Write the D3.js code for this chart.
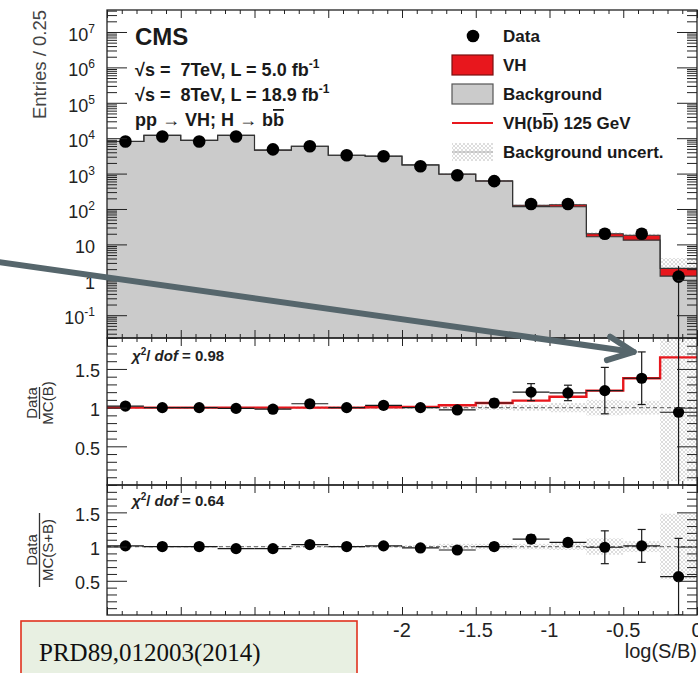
<!DOCTYPE html>
<html>
<head>
<meta charset="utf-8">
<script src="https://cdn.jsdelivr.net/npm/d3@7"></script>
<style>
  body { margin: 0; background: #fff; }
  svg { display: block; }
</style>
</head>
<body>
<script>
// ---- Data: log(S/B) distribution, 0.25-wide bins ----
const binCenters = [-3.875, -3.625, -3.375, -3.125, -2.875, -2.625, -2.375, -2.125,
                    -1.875, -1.625, -1.375, -1.125, -0.875, -0.625, -0.375, -0.125];
const binWidth = 0.25;

// Main panel (entries per bin)
const background = [8100, 12000, 8700, 12000, 4600, 5900, 3300, 3100, 1750, 960, 610, 117, 116, 16.4, 13.2, 1.27];
const signalVH   = [8, 12, 9, 14, 8, 10, 9, 12, 12, 15, 20, 10, 16, 3.6, 5.0, 0.83];
const dataCounts = [8100, 11200, 8100, 11200, 4840, 5900, 3290, 3080, 1610, 900, 612, 138, 138, 20, 20, 1.23];
const dataErr    = [90, 106, 90, 106, 70, 77, 57, 55, 40, 30, 25, 12, 12, 4.5, 4.5, 1.21];

// Data / MC(B) panel
const ratioB      = [1.02, 1.0, 1.0, 0.99, 0.98, 1.05, 1.0, 1.03, 1.0, 0.97, 1.06, 1.2, 1.19, 1.22, 1.38, 0.94];
const ratioBErr   = [0.015, 0.012, 0.015, 0.012, 0.02, 0.02, 0.025, 0.025, 0.03, 0.04, 0.05, 0.11, 0.1, 0.3, 0.34, 0.96];
const sbOverB     = [1.0, 1.0, 1.0, 1.0, 1.0, 1.0, 1.0, 1.005, 1.01, 1.03, 1.06, 1.09, 1.14, 1.22, 1.38, 1.65];
const uncB        = [0.01, 0.01, 0.01, 0.01, 0.01, 0.015, 0.015, 0.02, 0.02, 0.025, 0.03, 0.04, 0.06, 0.1, 0.09, 0.95];

// Data / MC(S+B) panel
const ratioSB     = [1.01, 1.0, 1.0, 0.97, 0.97, 1.03, 1.0, 1.01, 0.98, 0.95, 1.0, 1.11, 1.06, 0.99, 1.01, 0.56];
const ratioSBErr  = [0.015, 0.012, 0.015, 0.012, 0.02, 0.02, 0.025, 0.025, 0.03, 0.04, 0.05, 0.06, 0.05, 0.24, 0.24, 0.56];
const uncSB       = [0.01, 0.01, 0.01, 0.01, 0.01, 0.015, 0.015, 0.02, 0.02, 0.04, 0.04, 0.04, 0.05, 0.12, 0.08, 0.48];

// Tick labels
const xTickValues = [-4, -3.5, -3, -2.5, -2, -1.5, -1, -0.5, 0];
const xTickLabels = ["-4", "-3.5", "-3", "-2.5", "-2", "-1.5", "-1", "-0.5", "0"];
const logTickExps = [-1, 0, 1, 2, 3, 4, 5, 6, 7];
const ratioTickValues = [0.5, 1, 1.5];
const ratioTickLabels = ["0.5", "1", "1.5"];
const chi2B = "0.98";
const chi2SB = "0.64";

// ---- Layout ----
const W = 698, H = 673;
const X0 = 107, X1 = 697;
const P1 = { top: 10, bottom: 338 };
const P2 = { top: 338, bottom: 485 };
const P3 = { top: 485, bottom: 615 };
const NOTE = { x: 21, y: 621, w: 336, h: 60 };
const FONT = "'Liberation Sans', Arial, Helvetica, sans-serif";
const INK = "#1a1a1a";
const RED = "#e8171d";
const GREY = "#cbcbcb";

const x = d3.scaleLinear().domain([-4, 0]).range([X0, X1]);
const yMain = d3.scaleLog().domain([Math.pow(10, -1.644), Math.pow(10, 7.621)]).range([P1.bottom, P1.top]);
const yR2 = d3.scaleLinear().domain([0, 1.9]).range([P2.bottom, P2.top]);
const yR3 = d3.scaleLinear().domain([0, 1.9]).range([P3.bottom, P3.top]);

const svg = d3.select("body").append("svg")
  .attr("width", W).attr("height", H)
  .style("font-family", FONT);

const defs = svg.append("defs");
defs.append("pattern").attr("id", "hatch")
  .attr("width", 4).attr("height", 4).attr("patternUnits", "userSpaceOnUse")
  .append("path").attr("d", "M0,0L4,4M4,0L0,4")
  .attr("stroke", "#c6c6c6").attr("stroke-width", 0.6);
[["clip1", P1], ["clip2", P2], ["clip3", P3]].forEach(([id, p]) => {
  defs.append("clipPath").attr("id", id).append("rect")
    .attr("x", X0).attr("y", p.top).attr("width", X1 - X0).attr("height", p.bottom - p.top);
});

const lo = c => x(c - binWidth / 2);
const hi = c => x(c + binWidth / 2);
const stepPoints = (vals, ys) => binCenters.flatMap((c, i) => [[lo(c), ys(vals[i])], [hi(c), ys(vals[i])]]);
const line = d3.line();

// ---- Main panel ----
const g1 = svg.append("g").attr("clip-path", "url(#clip1)");
const total = background.map((b, i) => b + signalVH[i]);

g1.selectAll("rect.unc").data(binCenters).join("rect")
  .attr("x", c => lo(c)).attr("width", c => hi(c) - lo(c))
  .attr("y", (c, i) => yMain(total[i] * (1 + uncB[i])))
  .attr("height", (c, i) => yMain(Math.max(total[i] * (1 - uncB[i]), 1e-3)) - yMain(total[i] * (1 + uncB[i])))
  .attr("fill", "url(#hatch)");

// stacked areas: background, then VH on top
const bgPts = stepPoints(background, yMain);
const totPts = stepPoints(total, yMain);
g1.append("path")
  .attr("d", d3.area().x(p => p[0]).y0(P1.bottom).y1(p => p[1])(bgPts))
  .attr("fill", GREY);
g1.append("path")
  .attr("d", d3.area().x(p => p[0]).y0((p, i) => bgPts[i][1]).y1(p => p[1])(totPts))
  .attr("fill", RED);

g1.append("path").attr("d", line(bgPts))
  .attr("fill", "none").attr("stroke", "#333").attr("stroke-width", 1.1);
g1.append("path").attr("d", line(totPts))
  .attr("fill", "none").attr("stroke", "#333").attr("stroke-width", 1.1);

g1.selectAll("line.err").data(binCenters).join("line")
  .attr("x1", c => x(c)).attr("x2", c => x(c))
  .attr("y1", (c, i) => yMain(dataCounts[i] + dataErr[i]))
  .attr("y2", (c, i) => yMain(Math.max(dataCounts[i] - dataErr[i], 1e-3)))
  .attr("stroke", INK).attr("stroke-width", 1.2);
g1.selectAll("circle").data(binCenters).join("circle")
  .attr("cx", c => x(c)).attr("cy", (c, i) => yMain(dataCounts[i]))
  .attr("r", 6.3).attr("fill", "#000");

// ---- Ratio panels ----
function ratioPanel(clipId, P, ys, vals, errs, unc, redLine) {
  const g = svg.append("g").attr("clip-path", `url(#${clipId})`);
  g.selectAll("rect.unc").data(binCenters).join("rect")
    .attr("x", c => lo(c)).attr("width", c => hi(c) - lo(c))
    .attr("y", (c, i) => ys(1 + unc[i]))
    .attr("height", (c, i) => ys(1 - unc[i]) - ys(1 + unc[i]))
    .attr("fill", "url(#hatch)");
  g.append("line")
    .attr("x1", X0).attr("x2", X1).attr("y1", ys(1)).attr("y2", ys(1))
    .attr("stroke", "#777").attr("stroke-width", 1.1).attr("stroke-dasharray", "4,3");
  if (redLine) {
    g.append("path").attr("d", line(stepPoints(redLine, ys)))
      .attr("fill", "none").attr("stroke", RED).attr("stroke-width", 2.4);
  }
  // horizontal (bin width) bars
  g.selectAll("line.xe").data(binCenters).join("line")
    .attr("x1", c => lo(c)).attr("x2", c => hi(c))
    .attr("y1", (c, i) => ys(vals[i])).attr("y2", (c, i) => ys(vals[i]))
    .attr("stroke", INK).attr("stroke-width", 1.2);
  // vertical error bars with caps
  g.selectAll("line.ye").data(binCenters).join("line")
    .attr("x1", c => x(c)).attr("x2", c => x(c))
    .attr("y1", (c, i) => ys(vals[i] + errs[i])).attr("y2", (c, i) => ys(vals[i] - errs[i]))
    .attr("stroke", INK).attr("stroke-width", 1.2);
  [1, -1].forEach(sgn => {
    g.selectAll(null).data(binCenters).join("line")
      .attr("x1", c => x(c) - 4).attr("x2", c => x(c) + 4)
      .attr("y1", (c, i) => ys(vals[i] + sgn * errs[i])).attr("y2", (c, i) => ys(vals[i] + sgn * errs[i]))
      .attr("stroke", INK).attr("stroke-width", 1.2);
  });
  g.selectAll("circle").data(binCenters).join("circle")
    .attr("cx", c => x(c)).attr("cy", (c, i) => ys(vals[i]))
    .attr("r", 5.6).attr("fill", "#000");
}
ratioPanel("clip2", P2, yR2, ratioB, ratioBErr, uncB, sbOverB);
ratioPanel("clip3", P3, yR3, ratioSB, ratioSBErr, uncSB, null);

// ---- Axes & frames ----
const xMajor = xTickValues;
const xMinor = d3.range(-40, 1).map(v => v / 10).filter(v => Math.abs(v * 2 - Math.round(v * 2)) > 1e-6);
function tickAxis(axis, tx, ty) {
  const g = svg.append("g").attr("transform", `translate(${tx},${ty})`).call(axis);
  g.select(".domain").remove();
  g.selectAll("line").attr("stroke", "#222").attr("stroke-width", 1);
  g.selectAll("text").remove();
  return g;
}
function xTicks(P) {
  tickAxis(d3.axisBottom(x).tickValues(xMajor).tickSize(8), 0, P.top);
  tickAxis(d3.axisBottom(x).tickValues(xMinor).tickSize(4), 0, P.top);
  tickAxis(d3.axisTop(x).tickValues(xMajor).tickSize(8), 0, P.bottom);
  tickAxis(d3.axisTop(x).tickValues(xMinor).tickSize(4), 0, P.bottom);
}
[P1, P2, P3].forEach(xTicks);

// log y ticks for the main panel
const [dLo, dHi] = yMain.domain();
const logMajor = [], logMinor = [];
for (let e = -2; e <= 7; e++) {
  for (let k = 1; k <= 9; k++) {
    const v = k * Math.pow(10, e);
    if (v < dLo || v > dHi) continue;
    (k === 1 ? logMajor : logMinor).push(v);
  }
}
tickAxis(d3.axisRight(yMain).tickValues(logMajor).tickSize(20), X0, 0);
tickAxis(d3.axisRight(yMain).tickValues(logMinor).tickSize(10), X0, 0);
tickAxis(d3.axisLeft(yMain).tickValues(logMajor).tickSize(20), X1, 0);
tickAxis(d3.axisLeft(yMain).tickValues(logMinor).tickSize(10), X1, 0);

const rMinor = d3.range(1, 20).map(v => v / 10).filter(v => Math.abs(v * 2 - Math.round(v * 2)) > 1e-6);
[yR2, yR3].forEach(ys => {
  tickAxis(d3.axisRight(ys).tickValues(ratioTickValues).tickSize(20), X0, 0);
  tickAxis(d3.axisRight(ys).tickValues(rMinor).tickSize(10), X0, 0);
  tickAxis(d3.axisLeft(ys).tickValues(ratioTickValues).tickSize(20), X1, 0);
  tickAxis(d3.axisLeft(ys).tickValues(rMinor).tickSize(10), X1, 0);
});

[P1, P2, P3].forEach(P => {
  svg.append("rect").attr("x", X0).attr("y", P.top).attr("width", X1 - X0).attr("height", P.bottom - P.top)
    .attr("fill", "none").attr("stroke", "#222").attr("stroke-width", 1.3);
});

// ---- Tick labels ----
const labelsMain = svg.append("g").attr("font-size", 18).attr("fill", "#222").attr("text-anchor", "end");
logTickExps.forEach(e => {
  const t = labelsMain.append("text").attr("x", 95).attr("y", yMain(Math.pow(10, e)) + 9);
  if (e === 0) t.text("1");
  else if (e === 1) t.text("10");
  else {
    t.append("tspan").text("10");
    t.append("tspan").attr("font-size", 12).attr("dy", -8).text(String(e));
  }
});
[yR2, yR3].forEach(ys => {
  ratioTickValues.forEach((v, i) => {
    svg.append("text").attr("x", 100).attr("y", ys(v) + 8.5)
      .attr("text-anchor", "end").attr("font-size", 18).attr("fill", "#222")
      .text(ratioTickLabels[i]);
  });
});
// x labels; those under the reference note box are covered, so only the visible ones are drawn
xTickValues.forEach((v, i) => {
  if (x(v) < NOTE.x + NOTE.w + 10) return;
  svg.append("text").attr("x", x(v)).attr("y", 637)
    .attr("text-anchor", "middle").attr("font-size", 20).attr("fill", "#222")
    .text(xTickLabels[i]);
});
svg.append("text").attr("x", 697).attr("y", 658).attr("text-anchor", "end")
  .attr("font-size", 20).attr("fill", "#222").text("log(S/B)");

// ---- Axis titles ----
svg.append("text").attr("transform", "translate(46,10) rotate(-90)")
  .attr("text-anchor", "end").attr("font-size", 18.5).attr("fill", "#444")
  .text("Entries / 0.25");

function fracLabel(cy, denom) {
  const g = svg.append("g").attr("transform", `translate(39.5,${cy}) rotate(-90)`)
    .attr("font-size", 15).attr("fill", "#333").attr("text-anchor", "middle");
  g.append("text").attr("x", 0).attr("y", -3).text("Data");
  g.append("text").attr("x", 0).attr("y", 13).text(denom);
  const w = denom.length > 5 ? 74 : 32;
  g.append("line").attr("x1", -w / 2).attr("x2", w / 2).attr("y1", 0).attr("y2", 0)
    .attr("stroke", "#333").attr("stroke-width", 1.3);
}
fracLabel(403, "MC(B)");
fracLabel(550, "MC(S+B)");

function chi2Label(y, val) {
  const t = svg.append("text").attr("x", 132).attr("y", y)
    .attr("font-size", 15).attr("font-weight", "bold").attr("fill", "#222");
  t.append("tspan").attr("font-style", "italic").text("χ");
  t.append("tspan").attr("font-size", 10).attr("dy", -6).text("2");
  t.append("tspan").attr("dy", 6).text("/ ");
  t.append("tspan").attr("font-style", "italic").text("dof");
  t.append("tspan").text(" = " + val);
}
chi2Label(361, chi2B);
chi2Label(506, chi2SB);

// ---- CMS labels ----
svg.append("text").attr("x", 135).attr("y", 45).attr("font-size", 24)
  .attr("font-weight", "bold").attr("fill", INK).text("CMS");
function lumiLine(y, energy, lumi) {
  const t = svg.append("text").attr("x", 135).attr("y", y).attr("font-size", 18)
    .attr("font-weight", "bold").attr("fill", INK).attr("xml:space", "preserve");
  t.append("tspan").text(`√s =  ${energy}, L = ${lumi} fb`);
  t.append("tspan").attr("font-size", 12).attr("dy", -8).text("-1");
}
lumiLine(76, "7TeV", "5.0");
lumiLine(101, "8TeV", "18.9");
const proc = svg.append("text").attr("x", 135).attr("y", 126).attr("font-size", 18)
  .attr("font-weight", "bold").attr("fill", INK);
proc.append("tspan").text("pp → VH; H → b");
proc.append("tspan").style("text-decoration", "overline").text("b");

// ---- Legend ----
const lg = svg.append("g").attr("font-size", 17).attr("font-weight", "bold").attr("fill", INK);
const lgRows = [36, 65, 94, 123, 152];
lg.append("circle").attr("cx", 473).attr("cy", lgRows[0]).attr("r", 6.3).attr("fill", "#000");
lg.append("rect").attr("x", 452).attr("y", lgRows[1] - 10).attr("width", 41).attr("height", 20)
  .attr("fill", RED).attr("stroke", "#7a1010").attr("stroke-width", 1.2);
lg.append("rect").attr("x", 452).attr("y", lgRows[2] - 10).attr("width", 41).attr("height", 20)
  .attr("fill", GREY).attr("stroke", "#555").attr("stroke-width", 1.2);
lg.append("line").attr("x1", 452).attr("x2", 493).attr("y1", lgRows[3]).attr("y2", lgRows[3])
  .attr("stroke", RED).attr("stroke-width", 2);
lg.append("rect").attr("x", 452).attr("y", lgRows[4] - 9).attr("width", 41).attr("height", 18)
  .attr("fill", "url(#hatch)");
lg.append("line").attr("x1", 452).attr("x2", 493).attr("y1", lgRows[4]).attr("y2", lgRows[4])
  .attr("stroke", "#aaa").attr("stroke-width", 1);
const lgText = ["Data", "VH", "Background", null, "Background uncert."];
lgText.forEach((s, i) => {
  if (s) lg.append("text").attr("x", 503).attr("y", lgRows[i] + 6).text(s);
});
const vhLabel = lg.append("text").attr("x", 503).attr("y", lgRows[3] + 6);
vhLabel.append("tspan").text("VH(b");
vhLabel.append("tspan").style("text-decoration", "overline").text("b");
vhLabel.append("tspan").text(") 125 GeV");

// ---- Annotation arrow pointing at the highest-S/B ratio points ----
const tip = [x(binCenters[14]) - 8, yR2(ratioB[14] + ratioBErr[14])];
const tail = [-2, 262];
const ang = Math.atan2(tip[1] - tail[1], tip[0] - tail[0]);
const armLen = 28, armAng = 25 * Math.PI / 180;
const arm = s => [tip[0] - armLen * Math.cos(ang + s * armAng), tip[1] - armLen * Math.sin(ang + s * armAng)];
const arrow = svg.append("g").attr("stroke", "#56666c").attr("stroke-width", 6)
  .attr("fill", "none").attr("stroke-linecap", "round").attr("stroke-linejoin", "round");
arrow.append("path").attr("d", line([tail, tip]));
arrow.append("path").attr("d", line([arm(1), tip, arm(-1)]));

// ---- Reference box ----
svg.append("rect").attr("x", NOTE.x).attr("y", NOTE.y).attr("width", NOTE.w).attr("height", NOTE.h)
  .attr("fill", "#e8f0e2").attr("stroke", "#e0321f").attr("stroke-width", 1.6);
svg.append("text").attr("x", 39).attr("y", 661)
  .attr("font-family", "'Liberation Serif', 'Times New Roman', serif")
  .attr("font-size", 25).attr("fill", "#111").text("PRD89,012003(2014)");
</script>
</body>
</html>
